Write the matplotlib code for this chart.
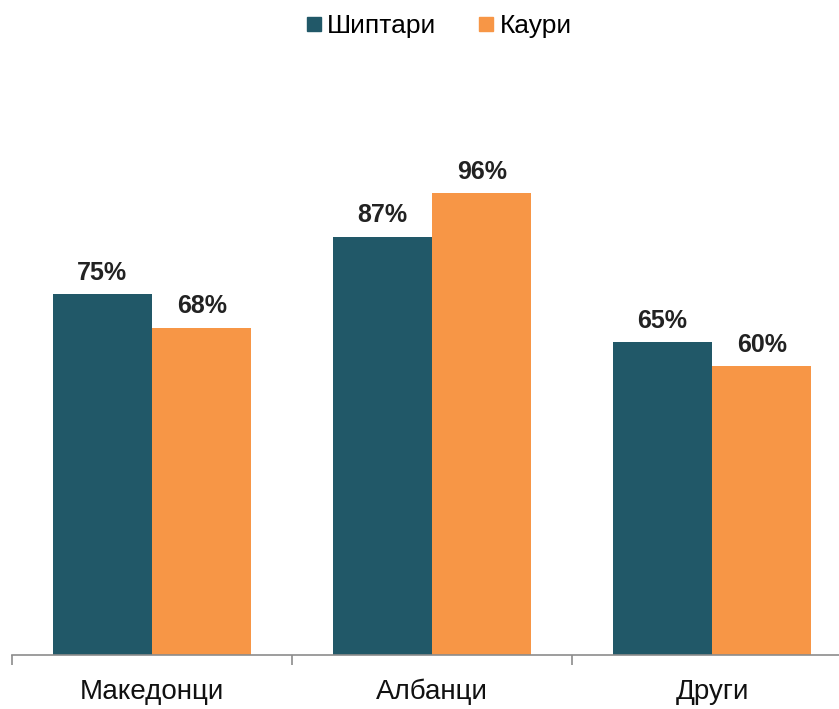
import numpy as np
import matplotlib.pyplot as plt
from matplotlib.lines import Line2D

categories = ["Македонци", "Албанци", "Други"]
shiptari = [75, 87, 65]
kauri = [68, 96, 60]
series_names = ["Шиптари", "Каури"]

dark = "#215868"
orange = "#F79646"

plt.rcParams["font.family"] = ["Liberation Sans", "DejaVu Sans"]

fig = plt.figure(figsize=(8.39, 7.09), dpi=100)
ax = fig.add_axes([12 / 839, 54 / 709, 840 / 839, 481 / 709])

x = np.arange(len(categories))
w = 0.355
b1 = ax.bar(x - w / 2, shiptari, w, color=dark)
b2 = ax.bar(x + w / 2, kauri, w, color=orange)

for bars, vals in [(b1, shiptari), (b2, kauri)]:
    for rect, v in zip(bars, vals):
        ax.text(rect.get_x() + rect.get_width() / 2, v + 2.0, f"{v}%",
                ha="center", va="bottom", fontsize=18, fontweight="bold", color="#222222")

ax.set_xlim(-0.5, 2.5)
ax.set_ylim(0, 100)
ax.set_yticks([])
for s in ["left", "right", "top"]:
    ax.spines[s].set_visible(False)
ax.spines["bottom"].set_color("#8c8c8c")
ax.spines["bottom"].set_linewidth(1.2)

ax.set_xticks(x)
ax.set_xticklabels(categories, fontsize=20, color="#111111")
ax.tick_params(axis="x", which="major", length=0, pad=17)
ax.set_xticks([-0.5, 0.5, 1.5, 2.5], minor=True)
ax.tick_params(axis="x", which="minor", length=7, color="#8c8c8c", width=1.2)

handles = [Line2D([], [], marker="s", linestyle="none", markersize=10, color=c)
           for c in [dark, orange]]
fig.legend(handles, series_names, loc="center", bbox_to_anchor=(436 / 839, 1 - 26 / 709),
           ncol=2, frameon=False, fontsize=19, handletextpad=0.0, columnspacing=1.4,
           handlelength=1.0)

fig.savefig("out.png", dpi=100)
